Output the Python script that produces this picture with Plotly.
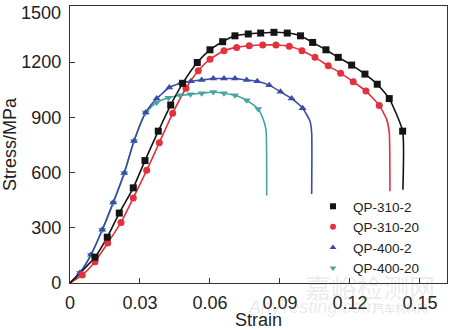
import plotly.graph_objects as go

# ---- data ----
series_names = ["QP-310-2", "QP-310-20", "QP-400-2", "QP-400-20"]

# QP-310-2 (markers)
s1_strain = [0.01071, 0.01599, 0.02113, 0.02713, 0.03214, 0.03784, 0.04316, 0.0483,
             0.05456, 0.06, 0.06544, 0.07071, 0.07641, 0.08173, 0.08743, 0.09313,
             0.09879, 0.10401, 0.10971, 0.11499, 0.12073, 0.12643, 0.1317, 0.13684, 0.14259]
s1_stress = [140, 249, 380, 517, 665, 825, 967, 1085,
             1198, 1267, 1311, 1343, 1353, 1358, 1362, 1358,
             1343, 1307, 1267, 1226, 1184, 1135, 1080, 1002, 825]
s1_tail_strain = [0.1427]
s1_tail_stress = [507]

# QP-310-20
s2_strain = [0.00527, 0.01071, 0.01616, 0.02186, 0.02713, 0.03287, 0.03827, 0.04401,
             0.04971, 0.05499, 0.06, 0.066, 0.07144, 0.07684, 0.08259, 0.08829,
             0.09399, 0.09943, 0.105, 0.1107, 0.11601, 0.12141, 0.12686, 0.13256]
s2_stress = [44, 116, 217, 329, 462, 612, 762, 922,
             1058, 1153, 1216, 1262, 1280, 1289, 1293, 1293,
             1286, 1262, 1226, 1180, 1140, 1093, 1043, 965]
s2_tail_strain = [0.13573, 0.13684, 0.13714]
s2_tail_stress = [889, 818, 498]

# QP-400-2
s3_strain = [0.00429, 0.009, 0.01384, 0.01856, 0.02327, 0.02743, 0.03244, 0.03716,
             0.04256, 0.04736, 0.05186, 0.05644, 0.06141, 0.066, 0.07071, 0.07573,
             0.08027, 0.08541, 0.09021, 0.09501, 0.09973]
s3_stress = [56, 153, 289, 438, 598, 771, 926, 1002,
             1062, 1085, 1096, 1103, 1111, 1111, 1111, 1103,
             1096, 1075, 1039, 1002, 950]
s3_tail_strain = [0.10286, 0.10359, 0.10359]
s3_tail_stress = [880, 817, 483]

# QP-400-20
s4_strain = [0.00429, 0.009, 0.01384, 0.01856, 0.02327, 0.02743, 0.03244, 0.03716,
             0.04221, 0.04714, 0.05164, 0.05644, 0.06141, 0.066, 0.07071, 0.07573, 0.0807]
s4_stress = [56, 153, 289, 438, 598, 771, 926, 981,
             1006, 1020, 1025, 1031, 1038, 1031, 1020, 993, 946]
s4_tail_strain = [0.08284, 0.084, 0.0843]
s4_tail_stress = [889, 835, 475]

x_ticks = [0, 0.03, 0.06, 0.09, 0.12, 0.15]
x_tick_labels = ["0", "0.03", "0.06", "0.09", "0.12", "0.15"]
y_ticks = [0, 300, 600, 900, 1200, 1500]
y_tick_labels = ["0", "300", "600", "900", "1200", ""]  # 1500 drawn as annotation

colors = ["#141414", "#e3313d", "#3a4ca6", "#45a69f"]
symbols = ["square", "circle", "triangle-up", "triangle-down"]

data = [
    (s1_strain, s1_stress, s1_tail_strain, s1_tail_stress),
    (s2_strain, s2_stress, s2_tail_strain, s2_tail_stress),
    (s3_strain, s3_stress, s3_tail_strain, s3_tail_stress),
    (s4_strain, s4_stress, s4_tail_strain, s4_tail_stress),
]

fig = go.Figure()
order = [3, 2, 1, 0]
for i in order:
    xs, ys, tx, ty = data[i]
    fig.add_trace(go.Scatter(
        x=[0] + xs + tx, y=[0] + ys + ty, mode="lines",
        line=dict(color=colors[i], width=1.6, shape="spline", smoothing=0.5),
        showlegend=False, hoverinfo="skip"))
for i in order:
    xs, ys, tx, ty = data[i]
    fig.add_trace(go.Scatter(
        x=xs, y=ys, mode="markers",
        marker=dict(symbol=symbols[i], size=7, color=colors[i]),
        showlegend=False))
for i in range(4):
    fig.add_trace(go.Scatter(
        x=[None], y=[None], mode="markers", name=series_names[i],
        marker=dict(symbol=symbols[i], size=6, color=colors[i])))

# top y tick label (kept inside the page)
fig.add_annotation(text="1500", x=0, xref="paper", xanchor="right", xshift=-7,
                   y=1500, yref="y", yanchor="middle", yshift=-6,
                   showarrow=False, font=dict(size=18, color="#222222", family="Liberation Sans"))

# faint watermark
fig.add_annotation(text="嘉峪检测网", x=(370 - 70) / 377, y=-3 / 277, xref="paper", yref="paper",
                   xanchor="center", yanchor="middle", showarrow=False,
                   font=dict(size=26, color="rgba(150,150,150,0.20)", family="Noto Sans CJK SC"))
fig.add_annotation(text="<i>AnyTesting.com</i>", x=(312 - 70) / 377, y=-24 / 277,
                   xref="paper", yref="paper", xanchor="center", yanchor="middle", showarrow=False,
                   font=dict(size=18, color="rgba(150,150,150,0.20)", family="Liberation Sans"))
fig.add_annotation(text="汽车材料网", x=(400 - 70) / 377, y=-25 / 277,
                   xref="paper", yref="paper", xanchor="center", yanchor="middle", showarrow=False,
                   font=dict(size=11, color="rgba(150,150,150,0.28)", family="Noto Sans CJK SC"))

axis_common = dict(
    showline=True, linecolor="#333333", linewidth=1.3, mirror=True,
    ticks="inside", ticklen=5, tickcolor="#333333", tickwidth=1.2,
    showgrid=False, zeroline=False,
    tickfont=dict(size=18, color="#222222", family="Liberation Sans"),
)

fig.update_layout(
    width=450, height=330,
    margin=dict(l=70, r=3, t=6, b=47, autoexpand=False),
    paper_bgcolor="white", plot_bgcolor="white",
    font=dict(family="Liberation Sans", color="#222222"),
    xaxis=dict(range=[0, 0.1616], tickvals=x_ticks, ticktext=x_tick_labels,
               title=dict(text="Strain", font=dict(size=18), standoff=4),
               ticklabelstandoff=3, **axis_common),
    yaxis=dict(range=[0, 1505], tickvals=y_ticks, ticktext=y_tick_labels,
               title=dict(text="Stress/MPa", font=dict(size=18), standoff=6),
               ticklabelstandoff=4, **axis_common),
    legend=dict(x=(313 - 70) / 377, y=(283 - 191) / 277, xanchor="left", yanchor="top",
                bgcolor="rgba(0,0,0,0)", font=dict(size=13.5, color="#222222"),
                itemwidth=30, tracegroupgap=0),
)

fig.write_html("out.html")
